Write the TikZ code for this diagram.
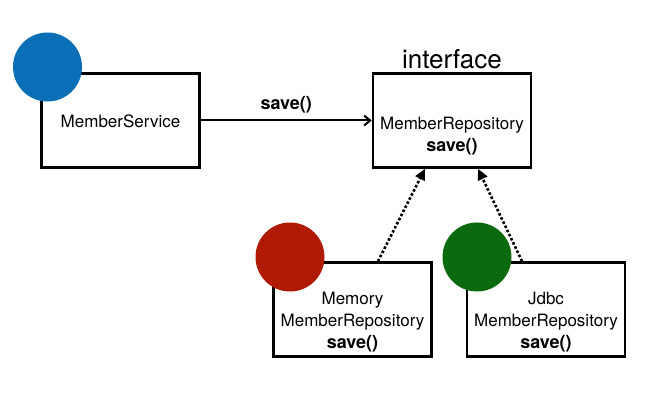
\documentclass[tikz,border=0pt]{standalone}
\usepackage{fontspec}
\setmainfont{TeX Gyre Heros}
\usepackage{tikz}
\usetikzlibrary{positioning,arrows.meta,calc}
\definecolor{svcblue}{RGB}{10,111,183}
\definecolor{memred}{RGB}{176,26,2}
\definecolor{jdbcgreen}{RGB}{12,106,14}
\tikzset{
	box/.style={draw,line width=2.6pt,minimum width=158pt,minimum height=94pt,inner sep=0pt},
	txt/.style={font=\fontsize{17}{22}\selectfont,align=center,inner sep=0pt},
	dot/.style={circle,minimum size=69pt,inner sep=0pt},
	impl/.style={line width=2.6pt,dotted,-{Triangle[length=11pt,width=10pt]}}
}
\begin{document}
\begin{tikzpicture}[x=1pt,y=1pt]
		\useasboundingbox (0,0) rectangle (670,418);
		% boxes
		\node[box] (svc) at (120.5,297.5) {};
		\node[box] (repo) at (452,297.5) {};
		\node[box] (mem) at (352.5,108.5) {};
		\node[box] (jdbc) at (546,108.5) {};
		% texts
		\node[txt] (svctxt) at ([yshift=-1pt]svc.center) {MemberService};
		\node[txt] (repotxt) at ([yshift=-16pt]repo.center) {MemberRepository\\\textbf{\fontsize{18}{22}\selectfont save()}};
		\node[txt,font=\fontsize{26}{30}\selectfont,above=3pt of repo] (iface) {interface};
		\node[txt] (memtxt) at ([yshift=-13pt]mem.center) {Memory\\MemberRepository\\\textbf{\fontsize{18}{22}\selectfont save()}};
		\node[txt] (jdbctxt) at ([yshift=-13pt]jdbc.center) {Jdbc\\MemberRepository\\\textbf{\fontsize{18}{22}\selectfont save()}};
		% circles
		\node[dot,fill=svcblue] (svcdot) at (47.5,351) {};
		\node[dot,fill=memred] (memdot) at (290,161) {};
		\node[dot,fill=jdbcgreen] (jdbcdot) at (477,161) {};
		% arrows
		\draw[line width=2pt,-{Straight Barb[length=6pt,width=10pt]}] (svc.east) -- node[above=3pt,font=\bfseries\fontsize{18}{22}\selectfont] (calllbl) {save()} (repo.west);
		\draw[impl] ([xshift=25.5pt]mem.north) -- ([xshift=-27pt]repo.south);
		\draw[impl] ([xshift=-24pt]jdbc.north) -- ([xshift=26pt]repo.south);
		\end{tikzpicture}
\end{document}
